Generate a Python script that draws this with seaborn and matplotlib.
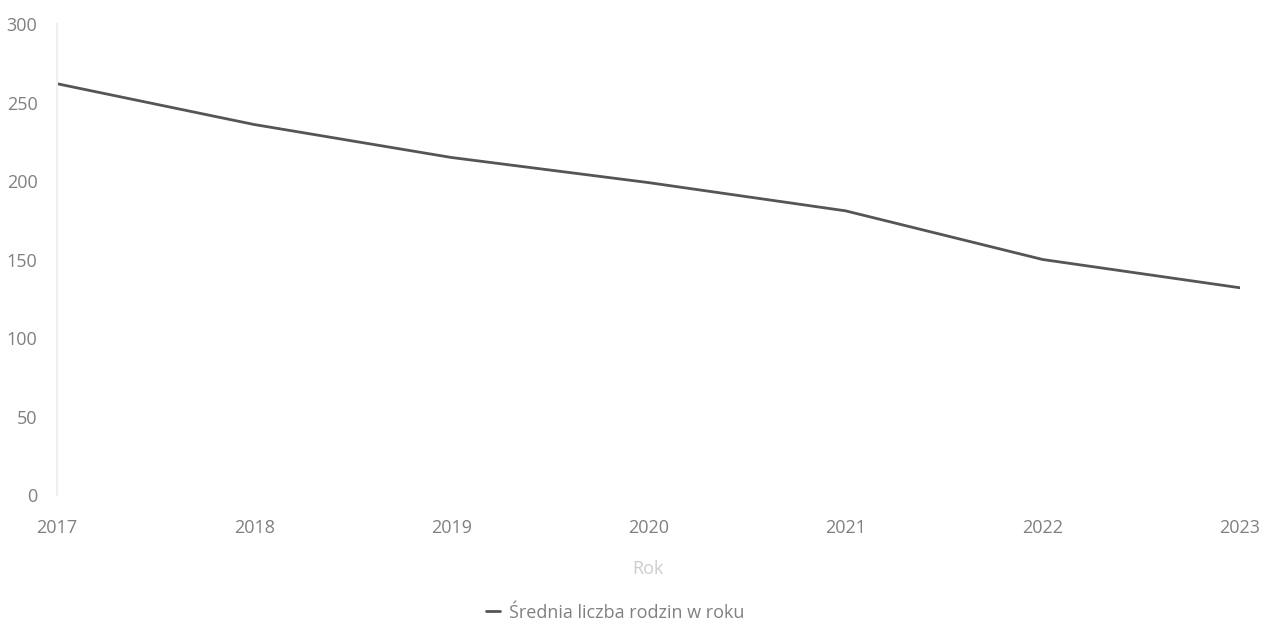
import matplotlib
matplotlib.use("Agg")
import matplotlib.pyplot as plt
import seaborn as sns
import pandas as pd

# data
years = [2017, 2018, 2019, 2020, 2021, 2022, 2023]
avg_families = [262, 236, 215, 199, 181, 150, 132]
series_label = "Średnia liczba rodzin w roku"

df = pd.DataFrame({"Rok": years, "value": avg_families})

sns.set_theme(style="white")
plt.rcParams["font.family"] = ["Open Sans", "DejaVu Sans"]

LINE_COLOR = "#555555"
TEXT_COLOR = "#808080"

fig = plt.figure(figsize=(12.64, 6.24), dpi=100)
ax = fig.add_axes([0.045, 0.2067, 0.936, 0.7548])

sns.lineplot(data=df, x="Rok", y="value", ax=ax, color=LINE_COLOR,
             linewidth=2, label=series_label)

ax.set_xlim(years[0], years[-1])
ax.set_ylim(0, 300)
ax.set_yticks(range(0, 301, 50))
ax.set_xticks(years)

for side in ["top", "right", "bottom"]:
    ax.spines[side].set_visible(False)
ax.spines["left"].set_color("#f0f0f0")
ax.spines["left"].set_linewidth(1.5)

ax.tick_params(axis="y", length=0, pad=14, labelsize=13, labelcolor=TEXT_COLOR)
ax.tick_params(axis="x", length=0, pad=17, labelsize=13, labelcolor=TEXT_COLOR)

ax.set_xlabel("Rok", fontsize=13, color="#cccccc", labelpad=17)
ax.set_ylabel("")

ax.legend(loc="center", bbox_to_anchor=(0.472, -0.25), frameon=False,
          fontsize=13, labelcolor=TEXT_COLOR, handlelength=0.8, handletextpad=0.5,
          borderpad=0)

fig.savefig("out.png", dpi=100)
